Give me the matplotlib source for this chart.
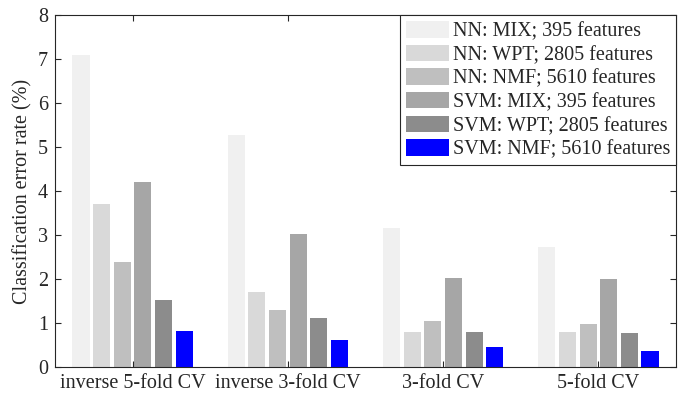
import numpy as np
import matplotlib.pyplot as plt

plt.rcParams['font.family'] = ['Liberation Serif', 'DejaVu Serif']
plt.rcParams['font.size'] = 14.5

groups = ['inverse 5-fold CV', 'inverse 3-fold CV', '3-fold CV', '5-fold CV']
series = ['NN: MIX; 395 features', 'NN: WPT; 2805 features', 'NN: NMF; 5610 features',
          'SVM: MIX; 395 features', 'SVM: WPT; 2805 features', 'SVM: NMF; 5610 features']
nn_mix = [7.09, 5.27, 3.16, 2.73]
nn_wpt = [3.70, 1.70, 0.79, 0.79]
nn_nmf = [2.38, 1.29, 1.04, 0.98]
svm_mix = [4.20, 3.02, 2.03, 2.00]
svm_wpt = [1.52, 1.11, 0.79, 0.78]
svm_nmf = [0.82, 0.61, 0.45, 0.36]
values = [nn_mix, nn_wpt, nn_nmf, svm_mix, svm_wpt, svm_nmf]
colors = ['#f0f0f0', '#d9d9d9', '#bfbfbf', '#a6a6a6', '#8c8c8c', '#0000ff']

fig = plt.figure(figsize=(6.83, 3.97), dpi=100)
ax = fig.add_axes([0.0805, 0.0756, 0.9093, 0.8864])

x = np.arange(1, len(groups) + 1)
pitch = 0.133
for i, (vals, lab, c) in enumerate(zip(values, series, colors)):
    ax.bar(x + (i - 2.5) * pitch, vals, width=0.11, color=c, label=lab)

ax.set_xlim(0.5, 4.5)
ax.set_ylim(0, 8)
ax.set_xticks(x)
ax.set_xticklabels(groups)
ax.set_yticks(range(9))
ax.set_ylabel('Classification error rate (%)', color='#262626')
ax.tick_params(direction='in', top=True, right=True, length=4, width=0.8,
               colors='#262626', pad=5)
for s in ax.spines.values():
    s.set_color('#262626')
    s.set_linewidth(0.8)

leg = ax.legend(loc='upper right', borderaxespad=0, fancybox=False, framealpha=1,
                edgecolor='#262626', handlelength=2.1, handleheight=0.88,
                handletextpad=0.2, labelspacing=0.17, borderpad=0.3)
leg.get_frame().set_linewidth(0.8)
for t in leg.get_texts():
    t.set_color('#262626')

fig.savefig('out.png', dpi=100)
